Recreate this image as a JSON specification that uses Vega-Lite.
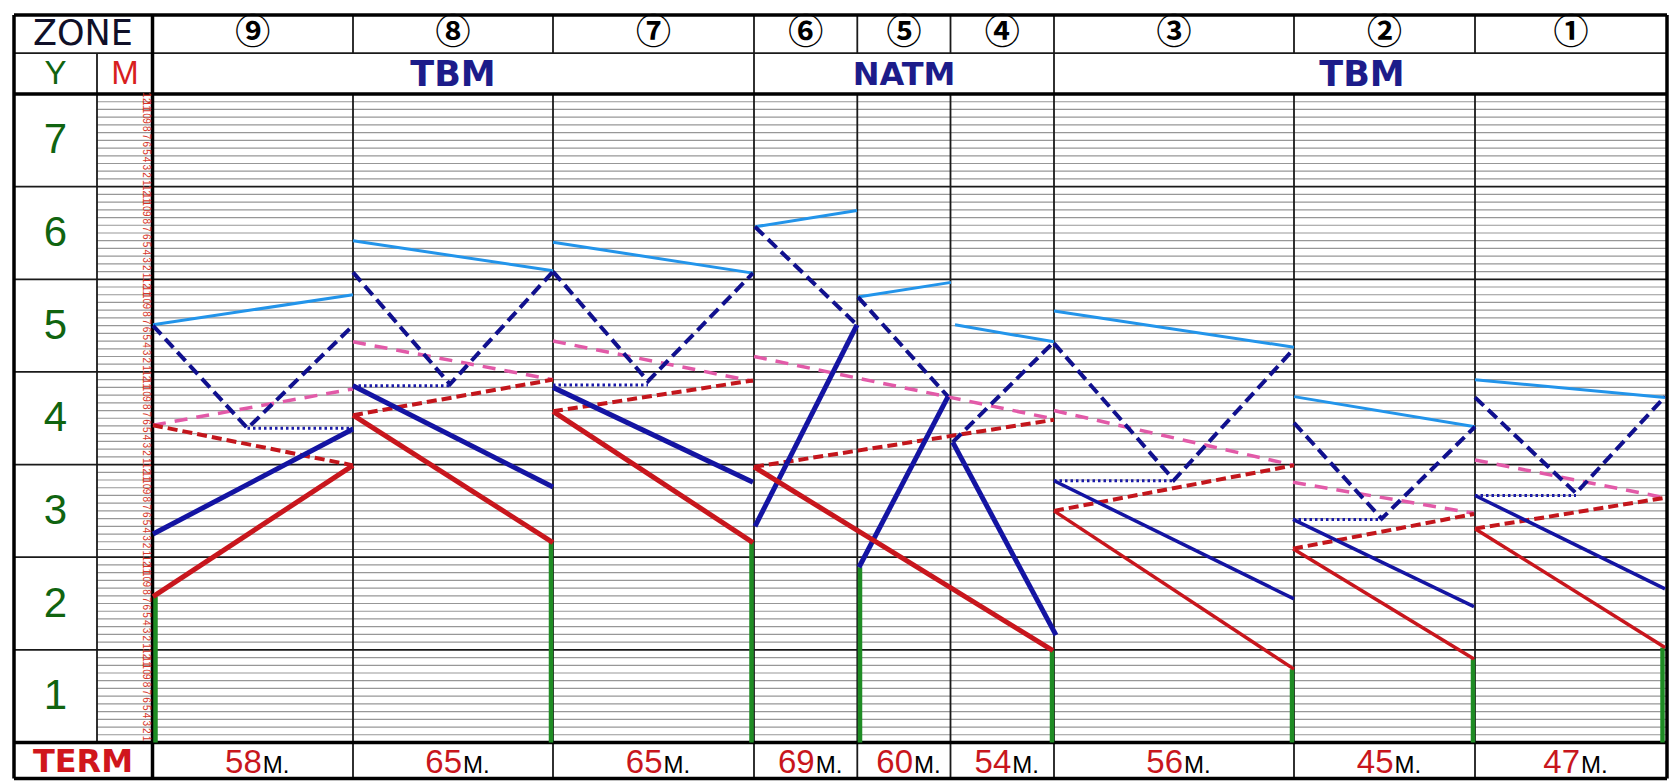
{
"$schema": "https://vega.github.io/schema/vega-lite/v6.json",
"width": 1675, "height": 781, "padding": 0,
"autosize": {"type": "fit", "contains": "padding"},
"background": "white",
"config": {"view": {"stroke": null}},
"datasets": {
"months": [
{"m":1,"lab":"1"},{"m":2,"lab":"2"},{"m":3,"lab":"3"},{"m":4,"lab":"4"},{"m":5,"lab":"5"},{"m":6,"lab":"6"},{"m":7,"lab":"7"},{"m":8,"lab":"8"},{"m":9,"lab":"9"},{"m":10,"lab":"10"},{"m":11,"lab":"11"},{"m":12,"lab":"12"},
{"m":13,"lab":"1"},{"m":14,"lab":"2"},{"m":15,"lab":"3"},{"m":16,"lab":"4"},{"m":17,"lab":"5"},{"m":18,"lab":"6"},{"m":19,"lab":"7"},{"m":20,"lab":"8"},{"m":21,"lab":"9"},{"m":22,"lab":"10"},{"m":23,"lab":"11"},{"m":24,"lab":"12"},
{"m":25,"lab":"1"},{"m":26,"lab":"2"},{"m":27,"lab":"3"},{"m":28,"lab":"4"},{"m":29,"lab":"5"},{"m":30,"lab":"6"},{"m":31,"lab":"7"},{"m":32,"lab":"8"},{"m":33,"lab":"9"},{"m":34,"lab":"10"},{"m":35,"lab":"11"},{"m":36,"lab":"12"},
{"m":37,"lab":"1"},{"m":38,"lab":"2"},{"m":39,"lab":"3"},{"m":40,"lab":"4"},{"m":41,"lab":"5"},{"m":42,"lab":"6"},{"m":43,"lab":"7"},{"m":44,"lab":"8"},{"m":45,"lab":"9"},{"m":46,"lab":"10"},{"m":47,"lab":"11"},{"m":48,"lab":"12"},
{"m":49,"lab":"1"},{"m":50,"lab":"2"},{"m":51,"lab":"3"},{"m":52,"lab":"4"},{"m":53,"lab":"5"},{"m":54,"lab":"6"},{"m":55,"lab":"7"},{"m":56,"lab":"8"},{"m":57,"lab":"9"},{"m":58,"lab":"10"},{"m":59,"lab":"11"},{"m":60,"lab":"12"},
{"m":61,"lab":"1"},{"m":62,"lab":"2"},{"m":63,"lab":"3"},{"m":64,"lab":"4"},{"m":65,"lab":"5"},{"m":66,"lab":"6"},{"m":67,"lab":"7"},{"m":68,"lab":"8"},{"m":69,"lab":"9"},{"m":70,"lab":"10"},{"m":71,"lab":"11"},{"m":72,"lab":"12"},
{"m":73,"lab":"1"},{"m":74,"lab":"2"},{"m":75,"lab":"3"},{"m":76,"lab":"4"},{"m":77,"lab":"5"},{"m":78,"lab":"6"},{"m":79,"lab":"7"},{"m":80,"lab":"8"},{"m":81,"lab":"9"},{"m":82,"lab":"10"},{"m":83,"lab":"11"},{"m":84,"lab":"12"}
],
"tbl": [
{"kind":"border","x":14,"x2":1667,"m":94.24,"m2":94.24},
{"kind":"major","x":14,"x2":1667,"m":89.3,"m2":89.3},
{"kind":"border","x":14,"x2":1667,"m":84,"m2":84},
{"kind":"major","x":14,"x2":1667,"m":72,"m2":72},
{"kind":"major","x":14,"x2":1667,"m":60,"m2":60},
{"kind":"major","x":14,"x2":1667,"m":48,"m2":48},
{"kind":"major","x":14,"x2":1667,"m":36,"m2":36},
{"kind":"major","x":14,"x2":1667,"m":24,"m2":24},
{"kind":"major","x":14,"x2":1667,"m":12,"m2":12},
{"kind":"border","x":14,"x2":1667,"m":0,"m2":0},
{"kind":"border","x":14,"x2":1667,"m":-4.66,"m2":-4.66},
{"kind":"border","x":14,"x2":14,"m":-4.66,"m2":94.24},
{"kind":"border","x":1667,"x2":1667,"m":-4.66,"m2":94.24},
{"kind":"border","x":152.5,"x2":152.5,"m":-4.66,"m2":94.24},
{"kind":"major","x":97,"x2":97,"m":0,"m2":89.3},
{"kind":"major","x":754,"x2":754,"m":-4.66,"m2":94.24},
{"kind":"major","x":1054,"x2":1054,"m":-4.66,"m2":94.24},
{"kind":"major","x":353,"x2":353,"m":-4.66,"m2":84},
{"kind":"major","x":553,"x2":553,"m":-4.66,"m2":84},
{"kind":"major","x":857.3,"x2":857.3,"m":-4.66,"m2":84},
{"kind":"major","x":950.5,"x2":950.5,"m":-4.66,"m2":84},
{"kind":"major","x":1294,"x2":1294,"m":-4.66,"m2":84},
{"kind":"major","x":1475,"x2":1475,"m":-4.66,"m2":84},
{"kind":"major","x":353,"x2":353,"m":89.3,"m2":94.24},
{"kind":"major","x":553,"x2":553,"m":89.3,"m2":94.24},
{"kind":"major","x":857.3,"x2":857.3,"m":89.3,"m2":94.24},
{"kind":"major","x":950.5,"x2":950.5,"m":89.3,"m2":94.24},
{"kind":"major","x":1294,"x2":1294,"m":89.3,"m2":94.24},
{"kind":"major","x":1475,"x2":1475,"m":89.3,"m2":94.24}
],
"zones": [
{"z":"⑨","x":252.8,"term":"58"},
{"z":"⑧","x":453,"term":"65"},
{"z":"⑦","x":653.5,"term":"65"},
{"z":"⑥","x":805.7,"term":"69"},
{"z":"⑤","x":904,"term":"60"},
{"z":"④","x":1002.3,"term":"54"},
{"z":"③","x":1174,"term":"56"},
{"z":"②","x":1384.5,"term":"45"},
{"z":"①","x":1571,"term":"47"}
],
"methods": [
{"t":"TBM","x":453},{"t":"NATM","x":904},{"t":"TBM","x":1362}
],
"years": [
{"t":"1","m":6},{"t":"2","m":18},{"t":"3","m":30},{"t":"4","m":42},{"t":"5","m":54},{"t":"6","m":66},{"t":"7","m":78}
],
"lines": [
{"seg":"9g","type":"green","zone":9,"x":155.5,"m":0},{"seg":"9g","type":"green","zone":9,"x":155.5,"m":18.9},
{"seg":"9r","type":"red","zone":9,"x":153,"m":18.9},{"seg":"9r","type":"red","zone":9,"x":353,"m":35.9},
{"seg":"9b","type":"blue","zone":9,"x":153,"m":27.0},{"seg":"9b","type":"blue","zone":9,"x":353,"m":40.6},
{"seg":"9rd","type":"redd","zone":9,"x":153,"m":41.1},{"seg":"9rd","type":"redd","zone":9,"x":353,"m":35.9},
{"seg":"9p","type":"pink","zone":9,"x":153,"m":41.1},{"seg":"9p","type":"pink","zone":9,"x":353,"m":45.8},
{"seg":"9bd","type":"blued","zone":9,"x":153,"m":54.0},{"seg":"9bd","type":"blued","zone":9,"x":247.5,"m":40.7},{"seg":"9bd","type":"blued","zone":9,"x":353,"m":54.0},
{"seg":"9dot","type":"dot","zone":9,"x":247.5,"m":40.7},{"seg":"9dot","type":"dot","zone":9,"x":353,"m":40.7},
{"seg":"9lb","type":"lblue","zone":9,"x":153,"m":54.1},{"seg":"9lb","type":"lblue","zone":9,"x":353,"m":58.0},

{"seg":"8g","type":"green","zone":8,"x":551,"m":0},{"seg":"8g","type":"green","zone":8,"x":551,"m":25.9},
{"seg":"8r","type":"red","zone":8,"x":353,"m":42.4},{"seg":"8r","type":"red","zone":8,"x":553,"m":25.9},
{"seg":"8b","type":"blue","zone":8,"x":353,"m":46.2},{"seg":"8b","type":"blue","zone":8,"x":553,"m":33.1},
{"seg":"8rd","type":"redd","zone":8,"x":353,"m":42.4},{"seg":"8rd","type":"redd","zone":8,"x":553,"m":47.0},
{"seg":"8p","type":"pink","zone":8,"x":353,"m":51.9},{"seg":"8p","type":"pink","zone":8,"x":553,"m":47.0},
{"seg":"8bd","type":"blued","zone":8,"x":353,"m":60.9},{"seg":"8bd","type":"blued","zone":8,"x":450,"m":46.4},{"seg":"8bd","type":"blued","zone":8,"x":553,"m":61.0},
{"seg":"8dot","type":"dot","zone":8,"x":353,"m":46.2},{"seg":"8dot","type":"dot","zone":8,"x":450,"m":46.2},
{"seg":"8lb","type":"lblue","zone":8,"x":353,"m":65.0},{"seg":"8lb","type":"lblue","zone":8,"x":553,"m":61.1},

{"seg":"7g","type":"green","zone":7,"x":751.5,"m":0},{"seg":"7g","type":"green","zone":7,"x":751.5,"m":25.9},
{"seg":"7r","type":"red","zone":7,"x":553,"m":42.9},{"seg":"7r","type":"red","zone":7,"x":753,"m":25.9},
{"seg":"7b","type":"blue","zone":7,"x":553,"m":46.0},{"seg":"7b","type":"blue","zone":7,"x":753,"m":33.7},
{"seg":"7rd","type":"redd","zone":7,"x":553,"m":42.9},{"seg":"7rd","type":"redd","zone":7,"x":753,"m":46.9},
{"seg":"7p","type":"pink","zone":7,"x":553,"m":52.0},{"seg":"7p","type":"pink","zone":7,"x":753,"m":46.8},
{"seg":"7bd","type":"blued","zone":7,"x":553,"m":61.0},{"seg":"7bd","type":"blued","zone":7,"x":648,"m":46.8},{"seg":"7bd","type":"blued","zone":7,"x":753,"m":60.8},
{"seg":"7dot","type":"dot","zone":7,"x":553,"m":46.3},{"seg":"7dot","type":"dot","zone":7,"x":648,"m":46.3},
{"seg":"7lb","type":"lblue","zone":7,"x":553,"m":64.8},{"seg":"7lb","type":"lblue","zone":7,"x":753,"m":60.8},

{"seg":"6r","type":"red","zone":6,"x":754,"m":35.7},{"seg":"6r","type":"red","zone":6,"x":1053,"m":11.9},
{"seg":"6rd","type":"redd","zone":6,"x":754,"m":35.7},{"seg":"6rd","type":"redd","zone":6,"x":1054,"m":41.8},
{"seg":"6p","type":"pink","zone":6,"x":754,"m":50.0},{"seg":"6p","type":"pink","zone":6,"x":1054,"m":41.9},
{"seg":"6b","type":"blue","zone":6,"x":755,"m":28.0},{"seg":"6b","type":"blue","zone":6,"x":857,"m":54.1},
{"seg":"6bd","type":"blued","zone":6,"x":755,"m":66.8},{"seg":"6bd","type":"blued","zone":6,"x":857,"m":54.1},
{"seg":"6lb","type":"lblue","zone":6,"x":755,"m":66.8},{"seg":"6lb","type":"lblue","zone":6,"x":857,"m":68.9},

{"seg":"5g","type":"green","zone":5,"x":860,"m":0},{"seg":"5g","type":"green","zone":5,"x":860,"m":22.7},
{"seg":"5b","type":"blue","zone":5,"x":859,"m":22.7},{"seg":"5b","type":"blue","zone":5,"x":948,"m":44.8},
{"seg":"5bd","type":"blued","zone":5,"x":858,"m":57.7},{"seg":"5bd","type":"blued","zone":5,"x":948,"m":44.8},
{"seg":"5lb","type":"lblue","zone":5,"x":858,"m":57.7},{"seg":"5lb","type":"lblue","zone":5,"x":951,"m":59.6},

{"seg":"4g","type":"green","zone":4,"x":1052,"m":0},{"seg":"4g","type":"green","zone":4,"x":1052,"m":11.9},
{"seg":"4b","type":"blue","zone":4,"x":952.7,"m":38.9},{"seg":"4b","type":"blue","zone":4,"x":1056,"m":13.9},
{"seg":"4bd","type":"blued","zone":4,"x":952.7,"m":38.9},{"seg":"4bd","type":"blued","zone":4,"x":1054,"m":51.9},
{"seg":"4lb","type":"lblue","zone":4,"x":955,"m":54.1},{"seg":"4lb","type":"lblue","zone":4,"x":1054,"m":51.9},

{"seg":"3g","type":"green","zone":3,"x":1292,"m":0},{"seg":"3g","type":"green","zone":3,"x":1292,"m":9.5},
{"seg":"3r","type":"red","zone":3,"x":1054,"m":30.0},{"seg":"3r","type":"red","zone":3,"x":1294,"m":9.5},
{"seg":"3b","type":"blue","zone":3,"x":1054,"m":33.9},{"seg":"3b","type":"blue","zone":3,"x":1294,"m":18.6},
{"seg":"3rd","type":"redd","zone":3,"x":1054,"m":30.0},{"seg":"3rd","type":"redd","zone":3,"x":1294,"m":35.9},
{"seg":"3p","type":"pink","zone":3,"x":1054,"m":43.0},{"seg":"3p","type":"pink","zone":3,"x":1294,"m":35.9},
{"seg":"3bd","type":"blued","zone":3,"x":1054,"m":51.7},{"seg":"3bd","type":"blued","zone":3,"x":1174,"m":34.0},{"seg":"3bd","type":"blued","zone":3,"x":1294,"m":51.0},
{"seg":"3dot","type":"dot","zone":3,"x":1054,"m":33.9},{"seg":"3dot","type":"dot","zone":3,"x":1174,"m":33.9},
{"seg":"3lb","type":"lblue","zone":3,"x":1054,"m":55.9},{"seg":"3lb","type":"lblue","zone":3,"x":1294,"m":51.2},

{"seg":"2g","type":"green","zone":2,"x":1473,"m":0},{"seg":"2g","type":"green","zone":2,"x":1473,"m":10.8},
{"seg":"2r","type":"red","zone":2,"x":1293,"m":25.1},{"seg":"2r","type":"red","zone":2,"x":1474,"m":10.8},
{"seg":"2b","type":"blue","zone":2,"x":1293,"m":28.9},{"seg":"2b","type":"blue","zone":2,"x":1474,"m":17.6},
{"seg":"2rd","type":"redd","zone":2,"x":1293,"m":25.1},{"seg":"2rd","type":"redd","zone":2,"x":1474,"m":29.6},
{"seg":"2p","type":"pink","zone":2,"x":1293,"m":33.7},{"seg":"2p","type":"pink","zone":2,"x":1474,"m":29.7},
{"seg":"2bd","type":"blued","zone":2,"x":1294,"m":41.4},{"seg":"2bd","type":"blued","zone":2,"x":1381.7,"m":29.0},{"seg":"2bd","type":"blued","zone":2,"x":1475,"m":40.9},
{"seg":"2dot","type":"dot","zone":2,"x":1293,"m":28.9},{"seg":"2dot","type":"dot","zone":2,"x":1381.7,"m":28.9},
{"seg":"2lb","type":"lblue","zone":2,"x":1294,"m":44.8},{"seg":"2lb","type":"lblue","zone":2,"x":1475,"m":40.9},

{"seg":"1g","type":"green","zone":1,"x":1662.5,"m":0},{"seg":"1g","type":"green","zone":1,"x":1662.5,"m":12.3},
{"seg":"1r","type":"red","zone":1,"x":1475,"m":27.7},{"seg":"1r","type":"red","zone":1,"x":1665,"m":12.3},
{"seg":"1b","type":"blue","zone":1,"x":1475,"m":32.0},{"seg":"1b","type":"blue","zone":1,"x":1665,"m":19.9},
{"seg":"1rd","type":"redd","zone":1,"x":1475,"m":27.7},{"seg":"1rd","type":"redd","zone":1,"x":1665,"m":31.7},
{"seg":"1p","type":"pink","zone":1,"x":1475,"m":36.6},{"seg":"1p","type":"pink","zone":1,"x":1665,"m":31.7},
{"seg":"1bd","type":"blued","zone":1,"x":1475,"m":44.7},{"seg":"1bd","type":"blued","zone":1,"x":1576,"m":32.3},{"seg":"1bd","type":"blued","zone":1,"x":1665,"m":44.8},
{"seg":"1dot","type":"dot","zone":1,"x":1475,"m":32.0},{"seg":"1dot","type":"dot","zone":1,"x":1576,"m":32.0},
{"seg":"1lb","type":"lblue","zone":1,"x":1475,"m":47.0},{"seg":"1lb","type":"lblue","zone":1,"x":1665,"m":44.7}
]
},
"layer": [
{"data": {"name": "months"}, "transform": [{"filter": "datum.m % 12 != 0"}],
 "mark": {"type": "rule", "color": "#979797", "strokeWidth": 1.2},
 "encoding": {
  "x": {"datum": 97, "type": "quantitative", "scale": {"domain": [0, 1675], "nice": false, "zero": false}, "axis": null},
  "x2": {"datum": 1667},
  "y": {"field": "m", "type": "quantitative", "scale": {"domain": [-4.99, 96.18], "nice": false, "zero": false}, "axis": null}}},
{"data": {"name": "tbl"}, "transform": [{"filter": "datum.kind == 'major'"}],
 "mark": {"type": "rule", "color": "#1a1a1a", "strokeWidth": 1.8},
 "encoding": {
  "x": {"field": "x", "type": "quantitative", "scale": {"domain": [0, 1675], "nice": false, "zero": false}, "axis": null},
  "x2": {"field": "x2"},
  "y": {"field": "m", "type": "quantitative", "scale": {"domain": [-4.99, 96.18], "nice": false, "zero": false}, "axis": null},
  "y2": {"field": "m2"}}},
{"data": {"name": "tbl"}, "transform": [{"filter": "datum.kind == 'border'"}],
 "mark": {"type": "rule", "color": "#000000", "strokeWidth": 3.5},
 "encoding": {
  "x": {"field": "x", "type": "quantitative", "scale": {"domain": [0, 1675], "nice": false, "zero": false}, "axis": null},
  "x2": {"field": "x2"},
  "y": {"field": "m", "type": "quantitative", "scale": {"domain": [-4.99, 96.18], "nice": false, "zero": false}, "axis": null},
  "y2": {"field": "m2"}}},
{"data": {"name": "lines"},
 "encoding": {
  "x": {"field": "x", "type": "quantitative", "scale": {"domain": [0, 1675], "nice": false, "zero": false}, "axis": null},
  "y": {"field": "m", "type": "quantitative", "scale": {"domain": [-4.99, 96.18], "nice": false, "zero": false}, "axis": null},
  "detail": {"field": "seg"}},
 "layer": [
  {"transform": [{"filter": "datum.type == 'green'"}],
   "mark": {"type": "line", "color": "#1f8c24", "strokeWidth": 4.5, "strokeCap": "butt"}},
  {"transform": [{"filter": "datum.type == 'lblue'"}],
   "mark": {"type": "line", "color": "#2294ea", "strokeWidth": 3, "strokeCap": "butt"}},
  {"transform": [{"filter": "datum.type == 'pink'"}],
   "mark": {"type": "line", "color": "#e25aa8", "strokeWidth": 3.5, "strokeDash": [13, 9], "strokeCap": "butt"}},
  {"transform": [{"filter": "datum.type == 'redd'"}],
   "mark": {"type": "line", "color": "#c3161c", "strokeWidth": 4, "strokeDash": [10, 5], "strokeCap": "butt"}},
  {"transform": [{"filter": "datum.type == 'blued'"}],
   "mark": {"type": "line", "color": "#10108e", "strokeWidth": 4, "strokeDash": [12, 6], "strokeCap": "butt"}},
  {"transform": [{"filter": "datum.type == 'dot'"}],
   "mark": {"type": "line", "color": "#1a1aa8", "strokeWidth": 3, "strokeDash": [2.5, 3], "strokeCap": "butt"}},
  {"transform": [{"filter": "datum.type == 'blue' && datum.zone >= 4"}],
   "mark": {"type": "line", "color": "#1414a2", "strokeWidth": 5, "strokeCap": "butt"}},
  {"transform": [{"filter": "datum.type == 'blue' && datum.zone <= 3"}],
   "mark": {"type": "line", "color": "#1414a2", "strokeWidth": 3.5, "strokeCap": "butt"}},
  {"transform": [{"filter": "datum.type == 'red' && datum.zone >= 4"}],
   "mark": {"type": "line", "color": "#c8161d", "strokeWidth": 5, "strokeCap": "butt"}},
  {"transform": [{"filter": "datum.type == 'red' && datum.zone <= 3"}],
   "mark": {"type": "line", "color": "#c8161d", "strokeWidth": 3.5, "strokeCap": "butt"}}
 ]},
{"data": {"name": "months"},
 "mark": {"type": "text", "angle": 90, "fontSize": 10, "color": "#d6362a", "font": "Liberation Sans", "align": "center", "baseline": "middle", "yOffset": 3.86},
 "encoding": {
  "x": {"datum": 146, "type": "quantitative", "scale": {"domain": [0, 1675], "nice": false, "zero": false}, "axis": null},
  "y": {"field": "m", "type": "quantitative", "scale": {"domain": [-4.99, 96.18], "nice": false, "zero": false}, "axis": null},
  "text": {"field": "lab"}}},
{"data": {"name": "years"},
 "mark": {"type": "text", "fontSize": 42, "color": "#106410", "font": "Liberation Sans", "align": "center", "baseline": "middle"},
 "encoding": {
  "x": {"datum": 55.5, "type": "quantitative", "scale": {"domain": [0, 1675], "nice": false, "zero": false}, "axis": null},
  "y": {"field": "m", "type": "quantitative", "scale": {"domain": [-4.99, 96.18], "nice": false, "zero": false}, "axis": null},
  "text": {"field": "t"}}},
{"data": {"name": "zones"},
 "mark": {"type": "text", "fontSize": 35, "fontWeight": "bold", "color": "#000000", "font": "Noto Sans CJK JP", "align": "center", "baseline": "middle"},
 "encoding": {
  "x": {"field": "x", "type": "quantitative", "scale": {"domain": [0, 1675], "nice": false, "zero": false}, "axis": null},
  "y": {"datum": 91.9, "type": "quantitative", "scale": {"domain": [-4.99, 96.18], "nice": false, "zero": false}, "axis": null},
  "text": {"field": "z"}}},
{"data": {"name": "zones"},
 "mark": {"type": "text", "fontSize": 33, "color": "#c8161d", "font": "Liberation Sans", "align": "right", "baseline": "alphabetic", "dx": 9},
 "encoding": {
  "x": {"field": "x", "type": "quantitative", "scale": {"domain": [0, 1675], "nice": false, "zero": false}, "axis": null},
  "y": {"datum": -3.9, "type": "quantitative", "scale": {"domain": [-4.99, 96.18], "nice": false, "zero": false}, "axis": null},
  "text": {"field": "term"}}},
{"data": {"name": "zones"},
 "mark": {"type": "text", "fontSize": 24, "color": "#000000", "font": "Liberation Sans", "align": "left", "baseline": "alphabetic", "dx": 10},
 "encoding": {
  "x": {"field": "x", "type": "quantitative", "scale": {"domain": [0, 1675], "nice": false, "zero": false}, "axis": null},
  "y": {"datum": -3.9, "type": "quantitative", "scale": {"domain": [-4.99, 96.18], "nice": false, "zero": false}, "axis": null},
  "text": {"value": "M."}}},
{"data": {"name": "methods"}, "transform": [{"filter": "datum.t == 'TBM'"}],
 "mark": {"type": "text", "fontSize": 35, "fontWeight": "bold", "color": "#1c1c8a", "font": "DejaVu Sans", "align": "center", "baseline": "middle"},
 "encoding": {
  "x": {"field": "x", "type": "quantitative", "scale": {"domain": [0, 1675], "nice": false, "zero": false}, "axis": null},
  "y": {"datum": 86.5, "type": "quantitative", "scale": {"domain": [-4.99, 96.18], "nice": false, "zero": false}, "axis": null},
  "text": {"field": "t"}}},
{"data": {"name": "methods"}, "transform": [{"filter": "datum.t == 'NATM'"}],
 "mark": {"type": "text", "fontSize": 32, "fontWeight": "bold", "color": "#1c1c8a", "font": "DejaVu Sans", "align": "center", "baseline": "middle"},
 "encoding": {
  "x": {"field": "x", "type": "quantitative", "scale": {"domain": [0, 1675], "nice": false, "zero": false}, "axis": null},
  "y": {"datum": 86.5, "type": "quantitative", "scale": {"domain": [-4.99, 96.18], "nice": false, "zero": false}, "axis": null},
  "text": {"field": "t"}}},
{"data": {"values": [{"t": "ZONE"}]},
 "mark": {"type": "text", "fontSize": 35, "color": "#101028", "font": "DejaVu Sans", "align": "center", "baseline": "middle"},
 "encoding": {
  "x": {"datum": 83, "type": "quantitative", "scale": {"domain": [0, 1675], "nice": false, "zero": false}, "axis": null},
  "y": {"datum": 91.8, "type": "quantitative", "scale": {"domain": [-4.99, 96.18], "nice": false, "zero": false}, "axis": null},
  "text": {"field": "t"}}},
{"data": {"values": [{"t": "Y"}]},
 "mark": {"type": "text", "fontSize": 33, "color": "#106410", "font": "Liberation Sans", "align": "center", "baseline": "middle"},
 "encoding": {
  "x": {"datum": 55.5, "type": "quantitative", "scale": {"domain": [0, 1675], "nice": false, "zero": false}, "axis": null},
  "y": {"datum": 86.6, "type": "quantitative", "scale": {"domain": [-4.99, 96.18], "nice": false, "zero": false}, "axis": null},
  "text": {"field": "t"}}},
{"data": {"values": [{"t": "M"}]},
 "mark": {"type": "text", "fontSize": 33, "color": "#d81e1e", "font": "Liberation Sans", "align": "center", "baseline": "middle"},
 "encoding": {
  "x": {"datum": 125, "type": "quantitative", "scale": {"domain": [0, 1675], "nice": false, "zero": false}, "axis": null},
  "y": {"datum": 86.6, "type": "quantitative", "scale": {"domain": [-4.99, 96.18], "nice": false, "zero": false}, "axis": null},
  "text": {"field": "t"}}},
{"data": {"values": [{"t": "TERM"}]},
 "mark": {"type": "text", "fontSize": 32, "fontWeight": "bold", "color": "#d0161c", "font": "DejaVu Sans", "align": "center", "baseline": "alphabetic"},
 "encoding": {
  "x": {"datum": 83, "type": "quantitative", "scale": {"domain": [0, 1675], "nice": false, "zero": false}, "axis": null},
  "y": {"datum": -3.8, "type": "quantitative", "scale": {"domain": [-4.99, 96.18], "nice": false, "zero": false}, "axis": null},
  "text": {"field": "t"}}}
]
}
